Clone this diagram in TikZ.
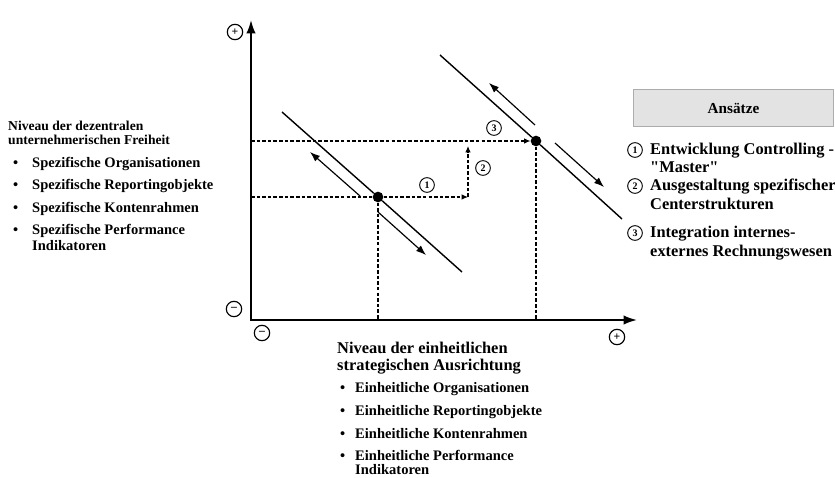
\documentclass[tikz,border=0pt]{standalone}
\usepackage{fontspec}
\setmainfont{Liberation Serif}
\usetikzlibrary{arrows.meta,positioning,calc}
\tikzset{
  pd/axis/.style={line width=1.6pt, {Latex[length=4mm,width=2.8mm]}-{Latex[length=4mm,width=2.8mm]}},
  pd/curve/.style={line width=1.2pt},
  pd/shift/.style={line width=1pt, -{Latex[length=3mm,width=2.2mm]}},
  pd/guide/.style={line width=1.2pt, dash pattern=on 3pt off 1.8pt},
  pd/guidearrow/.style={pd/guide, -{Latex[length=1.9mm,width=1.7mm]}},
  pd/dot/.style={circle, fill=black, inner sep=0pt, minimum size=3.2mm},
  pd/sign/.style={circle, draw, line width=1pt, inner sep=0pt, minimum size=4.6mm, font=\bfseries\fontsize{10}{10}\selectfont},
  pd/num/.style={circle, draw, line width=0.8pt, inner sep=0pt, minimum size=4.4mm, font=\bfseries\fontsize{8.5}{8.5}\selectfont},
  pd/head/.style={anchor=base west, inner sep=0pt, font=\bfseries\fontsize{14}{16}\selectfont},
  pd/lefthead/.style={pd/head, font=\bfseries\fontsize{11.6}{14}\selectfont},
  pd/item/.style={anchor=base west, inner sep=0pt, font=\bfseries\fontsize{12.4}{14}\selectfont},
  pd/legendbox/.style={draw=gray!65, fill=gray!22, line width=1.2pt, minimum width=6cm, minimum height=1.1cm, font=\bfseries\fontsize{13}{13}\selectfont}
}
% bullet and text of one list entry
\newcommand{\listentry}[5]{%
  \node[pd/item] (#1b) at (#2,#4) {\textbullet};
  \node[pd/item] (#1) at (#3,#4) {#5};}

\begin{document}
\begin{tikzpicture}[x=0.03cm, y=-0.03cm]
  \useasboundingbox (0,0) rectangle (835,478);

  % axes
  \coordinate (origin) at (251,320);
  \coordinate (ytop) at (251,20);
  \coordinate (xend) at (637,320);
  \draw[pd/axis] (ytop) -- (origin) -- (xend);
  \node[pd/sign] (ypos) at (235,32) {+};
  \node[pd/sign] (yneg) at (234,309) {--};
  \node[pd/sign] (xneg) at (262,333) {--};
  \node[pd/sign] (xpos) at (617,337) {+};

  % positions
  \node[pd/dot] (dotA) at (378,197) {};
  \node[pd/dot] (dotB) at (536,141) {};
  \coordinate (ylo) at (251,197);
  \coordinate (yhi) at (251,141);
  \coordinate (c1) at (468,197);
  \coordinate (c2) at (468,146);

  % guide lines
  \draw[pd/guide] (ylo) -- (dotA);
  \draw[pd/guidearrow] (dotA) -- (c1);
  \draw[pd/guidearrow] (c1) -- (c2);
  \draw[pd/guidearrow] (yhi) -- (dotB);
  \draw[pd/guide] (dotA) -- (dotA |- origin);
  \draw[pd/guide] (dotB) -- (dotB |- origin);
  \node[pd/num] (n1) at (427,185) {1};
  \node[pd/num] (n2) at (483,168) {2};
  \node[pd/num] (n3) at (494,128) {3};

  % trade-off lines
  \coordinate (a1) at (282,112);
  \coordinate (a2) at (462,272);
  \coordinate (b1) at (440,55);
  \coordinate (b2) at (622,219);
  \draw[pd/curve] (a1) -- (dotA) -- (a2);
  \draw[pd/curve] (b1) -- (dotB) -- (b2);
  \draw[pd/shift] (360,196) -- (310,152);
  \draw[pd/shift] (378,212) -- (426,255);
  \draw[pd/shift] (535,125) -- (489,83);
  \draw[pd/shift] (555,143) -- (604,187);

  % left axis text
  \node[pd/lefthead] (lh1) at (8,131) {Niveau der dezentralen};
  \node[pd/lefthead] (lh2) at (8,145) {unternehmerischen Freiheit};
  \listentry{l1}{13}{32}{167}{Spezifische Organisationen}
  \listentry{l2}{13}{32}{189}{Spezifische Reportingobjekte}
  \listentry{l3}{13}{32}{212}{Spezifische Kontenrahmen}
  \listentry{l4}{13}{32}{234}{Spezifische Performance}
  \node[pd/item] (l4x) at (32,250) {Indikatoren};

  % bottom axis text
  \node[pd/head] (bh1) at (337,353) {Niveau der einheitlichen};
  \node[pd/head] (bh2) at (337,370) {strategischen Ausrichtung};
  \listentry{e1}{340}{355}{392}{Einheitliche Organisationen}
  \listentry{e2}{340}{355}{415}{Einheitliche Reportingobjekte}
  \listentry{e3}{340}{355}{438}{Einheitliche Kontenrahmen}
  \listentry{e4}{340}{355}{460}{Einheitliche Performance}
  \node[pd/item] (e4x) at (355,474) {Indikatoren};

  % legend
  \node[pd/legendbox] (ansaetze) at (733.5,108) {Ansätze};
  \node[pd/num] (g1) at (635,150) {1};
  \node[pd/head] (g1a) at (650,154) {Entwicklung Controlling -};
  \node[pd/head] (g1b) at (650,172) {\textquotedbl Master\textquotedbl};
  \node[pd/num] (g2) at (635,186) {2};
  \node[pd/head] (g2a) at (650,190) {Ausgestaltung spezifischer};
  \node[pd/head] (g2b) at (650,209) {Centerstrukturen};
  \node[pd/num] (g3) at (635,233) {3};
  \node[pd/head] (g3a) at (650,237) {Integration internes-};
  \node[pd/head] (g3b) at (650,256) {externes Rechnungswesen};
\end{tikzpicture}
\end{document}
